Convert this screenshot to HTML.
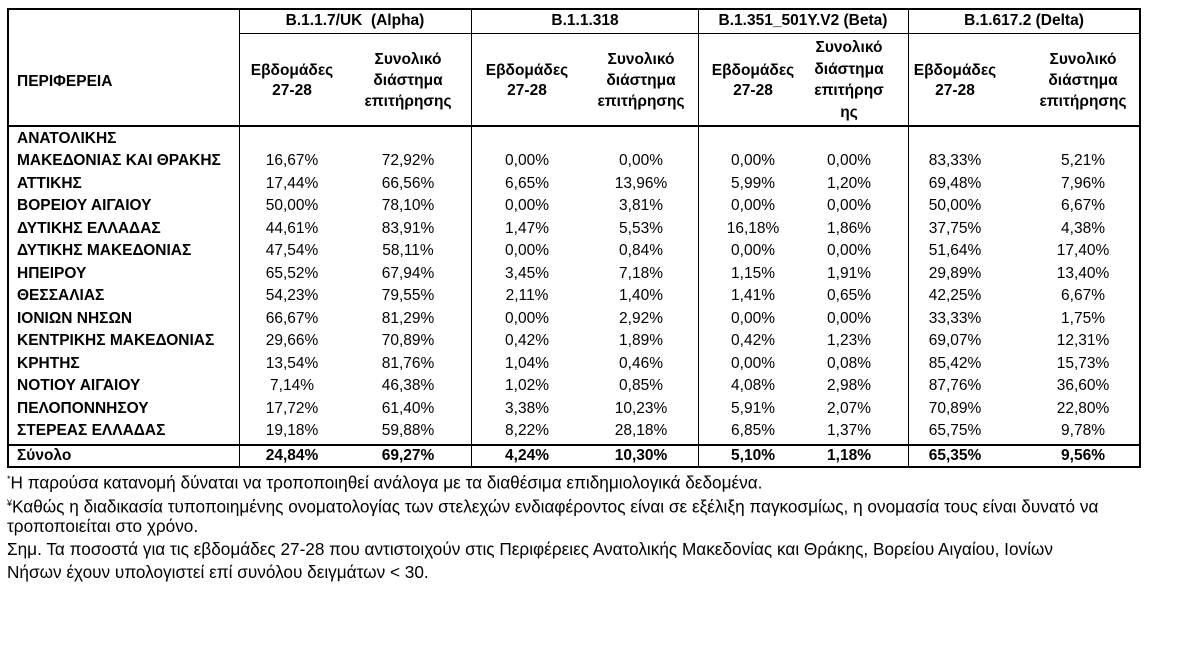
<!DOCTYPE html>
<html><head><meta charset="utf-8"><style>
body{margin:0;width:1188px;height:654px;background:#fff;position:relative;font-family:"Liberation Sans","DejaVu Sans",sans-serif;color:#000;overflow:hidden}
.l{position:absolute;background:#000}
.t{position:absolute;font-size:15.5px;white-space:nowrap;line-height:22px}
.c{position:absolute;font-size:15.5px;text-align:center;line-height:20px;transform:translateX(-50%);white-space:nowrap}
.b{font-weight:bold}
.f{position:absolute;left:7px;font-size:17.2px;white-space:nowrap;line-height:22px}
</style></head><body>
<div class="l" style="left:7px;top:8px;width:1134px;height:2px"></div>
<div class="l" style="left:7px;top:8px;width:2px;height:460px"></div>
<div class="l" style="left:1139px;top:8px;width:2px;height:460px"></div>
<div class="l" style="left:239px;top:8px;width:1px;height:460px"></div>
<div class="l" style="left:471px;top:8px;width:1px;height:460px"></div>
<div class="l" style="left:698px;top:8px;width:1px;height:460px"></div>
<div class="l" style="left:908px;top:8px;width:1px;height:460px"></div>
<div class="l" style="left:239px;top:33px;width:902px;height:1px"></div>
<div class="l" style="left:7px;top:125px;width:1134px;height:2px"></div>
<div class="l" style="left:7px;top:444px;width:1134px;height:2px"></div>
<div class="l" style="left:7px;top:466px;width:1134px;height:2px"></div>

<div class="c b" style="left:355px;top:11px">B.1.1.7/UK&nbsp; (Alpha)</div>
<div class="c b" style="left:585px;top:11px">B.1.1.318</div>
<div class="c b" style="left:803px;top:11px">B.1.351_501Y.V2 (Beta)</div>
<div class="c b" style="left:1024px;top:11px">B.1.617.2 (Delta)</div>
<div class="t b" style="left:17px;top:71px">ΠΕΡΙΦΕΡΕΙΑ</div>

<div class="c b" style="left:292px;top:61px">Εβδομάδες<br>27-28</div>
<div class="c b" style="left:408px;top:49px;line-height:21px">Συνολικό<br>διάστημα<br>επιτήρησης</div>
<div class="c b" style="left:527px;top:61px">Εβδομάδες<br>27-28</div>
<div class="c b" style="left:641px;top:49px;line-height:21px">Συνολικό<br>διάστημα<br>επιτήρησης</div>
<div class="c b" style="left:753px;top:61px">Εβδομάδες<br>27-28</div>
<div class="c b" style="left:849px;top:37px;line-height:21.5px">Συνολικό<br>διάστημα<br>επιτήρησ<br>ης</div>
<div class="c b" style="left:955px;top:61px">Εβδομάδες<br>27-28</div>
<div class="c b" style="left:1083px;top:49px;line-height:21px">Συνολικό<br>διάστημα<br>επιτήρησης</div>

<div class="t b" style="left:17px;top:128px">ΑΝΑΤΟΛΙΚΗΣ</div>
<div class="f" style="top:468px"><sup style="font-size:9px">*</sup>Η παρούσα κατανομή δύναται να τροποποιηθεί ανάλογα με τα διαθέσιμα επιδημιολογικά δεδομένα.</div>
<div class="f" style="top:492px"><sup style="font-size:9px">¥</sup>Καθώς η διαδικασία τυποποιημένης ονοματολογίας των στελεχών ενδιαφέροντος είναι σε εξέλιξη παγκοσμίως, η ονομασία τους είναι δυνατό να</div>
<div class="f" style="top:515px">τροποποιείται στο χρόνο.</div>
<div class="f" style="top:538px">Σημ. Τα ποσοστά για τις εβδομάδες 27-28 που αντιστοιχούν στις Περιφέρειες Ανατολικής Μακεδονίας και Θράκης, Βορείου Αιγαίου, Ιονίων</div>
<div class="f" style="top:561px">Νήσων έχουν υπολογιστεί επί συνόλου δειγμάτων &lt; 30.</div>

<div class="t b" style="left:17px;top:150px">ΜΑΚΕΔΟΝΙΑΣ ΚΑΙ ΘΡΑΚΗΣ</div>
<div class="c" style="left:292px;top:151px">16,67%</div><div class="c" style="left:408px;top:151px">72,92%</div><div class="c" style="left:527px;top:151px">0,00%</div><div class="c" style="left:641px;top:151px">0,00%</div><div class="c" style="left:753px;top:151px">0,00%</div><div class="c" style="left:849px;top:151px">0,00%</div><div class="c" style="left:955px;top:151px">83,33%</div><div class="c" style="left:1083px;top:151px">5,21%</div>

<div class="t b" style="left:17px;top:173px">ΑΤΤΙΚΗΣ</div>
<div class="c" style="left:292px;top:174px">17,44%</div><div class="c" style="left:408px;top:174px">66,56%</div><div class="c" style="left:527px;top:174px">6,65%</div><div class="c" style="left:641px;top:174px">13,96%</div><div class="c" style="left:753px;top:174px">5,99%</div><div class="c" style="left:849px;top:174px">1,20%</div><div class="c" style="left:955px;top:174px">69,48%</div><div class="c" style="left:1083px;top:174px">7,96%</div>

<div class="t b" style="left:17px;top:195px">ΒΟΡΕΙΟΥ ΑΙΓΑΙΟΥ</div>
<div class="c" style="left:292px;top:196px">50,00%</div><div class="c" style="left:408px;top:196px">78,10%</div><div class="c" style="left:527px;top:196px">0,00%</div><div class="c" style="left:641px;top:196px">3,81%</div><div class="c" style="left:753px;top:196px">0,00%</div><div class="c" style="left:849px;top:196px">0,00%</div><div class="c" style="left:955px;top:196px">50,00%</div><div class="c" style="left:1083px;top:196px">6,67%</div>

<div class="t b" style="left:17px;top:218px">ΔΥΤΙΚΗΣ ΕΛΛΑΔΑΣ</div>
<div class="c" style="left:292px;top:219px">44,61%</div><div class="c" style="left:408px;top:219px">83,91%</div><div class="c" style="left:527px;top:219px">1,47%</div><div class="c" style="left:641px;top:219px">5,53%</div><div class="c" style="left:753px;top:219px">16,18%</div><div class="c" style="left:849px;top:219px">1,86%</div><div class="c" style="left:955px;top:219px">37,75%</div><div class="c" style="left:1083px;top:219px">4,38%</div>

<div class="t b" style="left:17px;top:240px">ΔΥΤΙΚΗΣ ΜΑΚΕΔΟΝΙΑΣ</div>
<div class="c" style="left:292px;top:241px">47,54%</div><div class="c" style="left:408px;top:241px">58,11%</div><div class="c" style="left:527px;top:241px">0,00%</div><div class="c" style="left:641px;top:241px">0,84%</div><div class="c" style="left:753px;top:241px">0,00%</div><div class="c" style="left:849px;top:241px">0,00%</div><div class="c" style="left:955px;top:241px">51,64%</div><div class="c" style="left:1083px;top:241px">17,40%</div>

<div class="t b" style="left:17px;top:263px">ΗΠΕΙΡΟΥ</div>
<div class="c" style="left:292px;top:264px">65,52%</div><div class="c" style="left:408px;top:264px">67,94%</div><div class="c" style="left:527px;top:264px">3,45%</div><div class="c" style="left:641px;top:264px">7,18%</div><div class="c" style="left:753px;top:264px">1,15%</div><div class="c" style="left:849px;top:264px">1,91%</div><div class="c" style="left:955px;top:264px">29,89%</div><div class="c" style="left:1083px;top:264px">13,40%</div>

<div class="t b" style="left:17px;top:285px">ΘΕΣΣΑΛΙΑΣ</div>
<div class="c" style="left:292px;top:286px">54,23%</div><div class="c" style="left:408px;top:286px">79,55%</div><div class="c" style="left:527px;top:286px">2,11%</div><div class="c" style="left:641px;top:286px">1,40%</div><div class="c" style="left:753px;top:286px">1,41%</div><div class="c" style="left:849px;top:286px">0,65%</div><div class="c" style="left:955px;top:286px">42,25%</div><div class="c" style="left:1083px;top:286px">6,67%</div>

<div class="t b" style="left:17px;top:308px">ΙΟΝΙΩΝ ΝΗΣΩΝ</div>
<div class="c" style="left:292px;top:309px">66,67%</div><div class="c" style="left:408px;top:309px">81,29%</div><div class="c" style="left:527px;top:309px">0,00%</div><div class="c" style="left:641px;top:309px">2,92%</div><div class="c" style="left:753px;top:309px">0,00%</div><div class="c" style="left:849px;top:309px">0,00%</div><div class="c" style="left:955px;top:309px">33,33%</div><div class="c" style="left:1083px;top:309px">1,75%</div>

<div class="t b" style="left:17px;top:330px">ΚΕΝΤΡΙΚΗΣ ΜΑΚΕΔΟΝΙΑΣ</div>
<div class="c" style="left:292px;top:331px">29,66%</div><div class="c" style="left:408px;top:331px">70,89%</div><div class="c" style="left:527px;top:331px">0,42%</div><div class="c" style="left:641px;top:331px">1,89%</div><div class="c" style="left:753px;top:331px">0,42%</div><div class="c" style="left:849px;top:331px">1,23%</div><div class="c" style="left:955px;top:331px">69,07%</div><div class="c" style="left:1083px;top:331px">12,31%</div>

<div class="t b" style="left:17px;top:353px">ΚΡΗΤΗΣ</div>
<div class="c" style="left:292px;top:354px">13,54%</div><div class="c" style="left:408px;top:354px">81,76%</div><div class="c" style="left:527px;top:354px">1,04%</div><div class="c" style="left:641px;top:354px">0,46%</div><div class="c" style="left:753px;top:354px">0,00%</div><div class="c" style="left:849px;top:354px">0,08%</div><div class="c" style="left:955px;top:354px">85,42%</div><div class="c" style="left:1083px;top:354px">15,73%</div>

<div class="t b" style="left:17px;top:375px">ΝΟΤΙΟΥ ΑΙΓΑΙΟΥ</div>
<div class="c" style="left:292px;top:376px">7,14%</div><div class="c" style="left:408px;top:376px">46,38%</div><div class="c" style="left:527px;top:376px">1,02%</div><div class="c" style="left:641px;top:376px">0,85%</div><div class="c" style="left:753px;top:376px">4,08%</div><div class="c" style="left:849px;top:376px">2,98%</div><div class="c" style="left:955px;top:376px">87,76%</div><div class="c" style="left:1083px;top:376px">36,60%</div>

<div class="t b" style="left:17px;top:398px">ΠΕΛΟΠΟΝΝΗΣΟΥ</div>
<div class="c" style="left:292px;top:399px">17,72%</div><div class="c" style="left:408px;top:399px">61,40%</div><div class="c" style="left:527px;top:399px">3,38%</div><div class="c" style="left:641px;top:399px">10,23%</div><div class="c" style="left:753px;top:399px">5,91%</div><div class="c" style="left:849px;top:399px">2,07%</div><div class="c" style="left:955px;top:399px">70,89%</div><div class="c" style="left:1083px;top:399px">22,80%</div>

<div class="t b" style="left:17px;top:420px">ΣΤΕΡΕΑΣ ΕΛΛΑΔΑΣ</div>
<div class="c" style="left:292px;top:421px">19,18%</div><div class="c" style="left:408px;top:421px">59,88%</div><div class="c" style="left:527px;top:421px">8,22%</div><div class="c" style="left:641px;top:421px">28,18%</div><div class="c" style="left:753px;top:421px">6,85%</div><div class="c" style="left:849px;top:421px">1,37%</div><div class="c" style="left:955px;top:421px">65,75%</div><div class="c" style="left:1083px;top:421px">9,78%</div>

<div class="t b" style="left:17px;top:445px">Σύνολο</div>
<div class="c b" style="left:292px;top:446px">24,84%</div><div class="c b" style="left:408px;top:446px">69,27%</div><div class="c b" style="left:527px;top:446px">4,24%</div><div class="c b" style="left:641px;top:446px">10,30%</div><div class="c b" style="left:753px;top:446px">5,10%</div><div class="c b" style="left:849px;top:446px">1,18%</div><div class="c b" style="left:955px;top:446px">65,35%</div><div class="c b" style="left:1083px;top:446px">9,56%</div>
</body></html>
